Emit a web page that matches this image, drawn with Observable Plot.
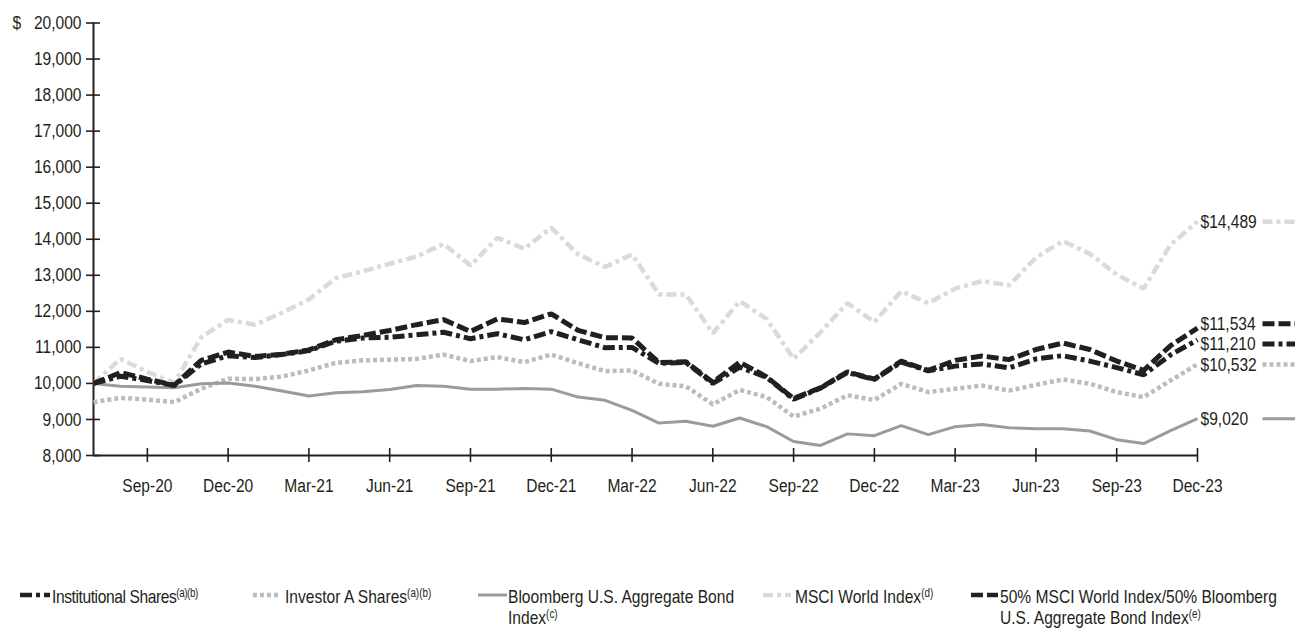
<!DOCTYPE html>
<html>
<head>
<meta charset="utf-8">
<script src="https://cdn.jsdelivr.net/npm/d3@7"></script>
<script src="https://cdn.jsdelivr.net/npm/@observablehq/plot@0.6"></script>
<style>
  html, body { margin: 0; padding: 0; background: #fff; }
  body { width: 1295px; height: 630px; position: relative; overflow: hidden;
         font-family: 'Liberation Sans', Arial, sans-serif; color: #231f20; }
  #chart { position: absolute; left: 0; top: 0; }
  .leg { position: absolute; top: 586px; font-size: 19px; line-height: 21px; white-space: nowrap;
         transform: scaleX(0.82); transform-origin: 0 0; }
  .leg sup { font-size: 12px; line-height: 0; vertical-align: 6px; }
  .sw { position: absolute; top: 590px; }
</style>
</head>
<body>
<div id="chart"></div>
<div id="legend"></div>
<script>
// ---- data ----
const months = ["Jul-20","Aug-20","Sep-20","Oct-20","Nov-20","Dec-20","Jan-21","Feb-21","Mar-21","Apr-21","May-21","Jun-21",
  "Jul-21","Aug-21","Sep-21","Oct-21","Nov-21","Dec-21","Jan-22","Feb-22","Mar-22","Apr-22","May-22","Jun-22",
  "Jul-22","Aug-22","Sep-22","Oct-22","Nov-22","Dec-22","Jan-23","Feb-23","Mar-23","Apr-23","May-23","Jun-23",
  "Jul-23","Aug-23","Sep-23","Oct-23","Nov-23","Dec-23"];
const tickLabels = ["Sep-20","Dec-20","Mar-21","Jun-21","Sep-21","Dec-21","Mar-22","Jun-22","Sep-22","Dec-22","Mar-23","Jun-23","Sep-23","Dec-23"];
const yTicks = [8000,9000,10000,11000,12000,13000,14000,15000,16000,17000,18000,19000,20000];

const institutional = [10000,10200,10080,9940,10540,10770,10720,10800,10910,11170,11260,11280,
  11350,11420,11240,11380,11210,11440,11210,10990,11000,10560,10580,10000,
  10450,10170,9560,9870,10300,10110,10590,10350,10480,10540,10430,10680,
  10770,10620,10440,10240,10790,11210];
const investorA = [9480,9600,9550,9480,9850,10130,10120,10190,10360,10570,10640,10660,
  10680,10800,10620,10730,10590,10800,10560,10340,10360,9990,9920,9420,
  9820,9620,9080,9300,9670,9540,9990,9760,9850,9940,9800,9960,
  10110,9990,9760,9620,10080,10532];
const bloomberg = [10000,9920,9900,9880,9990,10010,9920,9790,9650,9740,9770,9830,
  9940,9920,9840,9840,9860,9840,9620,9530,9250,8900,8950,8810,
  9040,8800,8390,8280,8600,8550,8830,8580,8800,8860,8770,8740,
  8740,8680,8440,8330,8690,9020];
const msciWorld = [10000,10680,10320,10020,11280,11760,11630,11960,12330,12920,13110,13320,
  13520,13870,13270,14040,13740,14320,13580,13230,13580,12470,12470,11390,
  12280,11790,10680,11420,12230,11700,12560,12230,12630,12840,12720,13490,
  13950,13600,13020,12630,13850,14489];
const blend = [10000,10300,10120,9950,10640,10870,10750,10810,10930,11210,11330,11470,
  11630,11770,11440,11790,11690,11930,11470,11270,11260,10580,10600,10030,
  10590,10180,9580,9880,10320,10120,10620,10360,10640,10760,10660,10940,
  11120,10940,10620,10360,11050,11534];

const endLabels = ["$14,489","$11,534","$11,210","$10,532","$9,020"];

// ---- styles ----
const ink = "#231f20";
const series = [
  {key:"msci", values: msciWorld, label: endLabels[0], stroke:"#dadada", width:4.5, dash:"10,4,4,4"},
  {key:"invA", values: investorA, label: endLabels[3], stroke:"#bcbcbe", width:4.5, dash:"4,3"},
  {key:"bbg", values: bloomberg, label: endLabels[4], stroke:"#9b9b9b", width:3, dash:null},
  {key:"blend", values: blend, label: endLabels[1], stroke:ink, width:5, dash:"12,4"},
  {key:"inst", values: institutional, label: endLabels[2], stroke:ink, width:5, dash:"12,4,4,4"}
];

const W = 1295, H = 500;
const mL = 93, mR = 98, mT = 22.5, mB = 45;
const n = months.length;
const tickIdx = tickLabels.map(t => months.indexOf(t));
const squeeze = 0.82;

// dodge end labels vertically
const ys = Plot.scale({y: {domain: [8000, 20000], range: [H - mB, mT]}});
const ord = series.map((s, i) => ({i, py: ys.apply(s.values[n - 1])})).sort((a, b) => a.py - b.py);
const gap = 20.5;
const pos = ord.map(o => o.py);
for (let k = 1; k < pos.length; k++) {
  if (pos[k] - pos[k - 1] < gap) {
    const mid = (pos[k] + pos[k - 1]) / 2;
    pos[k - 1] = mid - gap / 2; pos[k] = mid + gap / 2;
  }
}
const dyOf = {};
ord.forEach((o, k) => dyOf[o.i] = pos[k] - o.py);

const lineShape = {draw(ctx, l) { ctx.moveTo(0, 0); ctx.lineTo(0, -l); }};

const marks = [];
// axis lines
marks.push(Plot.ruleX([0], {y1: yTicks[0], y2: yTicks[yTicks.length - 1], stroke: ink, strokeWidth: 2}));
marks.push(Plot.ruleY([yTicks[0]], {x1: 0, x2: n - 1, stroke: ink, strokeWidth: 2}));
// crossing ticks
marks.push(Plot.axisY({ticks: yTicks, tickSize: 14, dx: 7, tickFormat: () => "", stroke: ink, strokeWidth: 1.6}));
marks.push(Plot.axisX({ticks: tickIdx, tickSize: 14, dy: -7, tickFormat: () => "", stroke: ink, strokeWidth: 1.6}));
// tick labels
marks.push(Plot.axisY({ticks: yTicks, tickSize: 0, tickPadding: 12, tickFormat: d3.format(","), fill: ink}));
marks.push(Plot.axisX({ticks: tickIdx, tickSize: 0, tickPadding: 23, tickFormat: i => months[i], fill: ink}));
marks.push(Plot.text(["$"], {y: yTicks[yTicks.length - 1], frameAnchor: "left", dx: -81, textAnchor: "start", text: d => d, fill: ink}));

series.forEach((s, i) => {
  marks.push(Plot.line(s.values, {x: (d, j) => j, y: d => d, stroke: s.stroke, strokeWidth: s.width,
    strokeDasharray: s.dash, strokeLinejoin: "miter", strokeLinecap: "butt", curve: "linear"}));
});
series.forEach((s, i) => {
  const last = [s.values[n - 1]];
  marks.push(Plot.text(last, {x: n - 1, y: d => d, text: () => s.label, dx: 3, dy: dyOf[i], textAnchor: "start", fill: ink}));
  marks.push(Plot.vector(last, {x: n - 1, y: d => d, length: 33, rotate: 90, anchor: "start", shape: lineShape,
    dx: 65, dy: dyOf[i], stroke: s.stroke, strokeWidth: s.width, strokeDasharray: s.dash, strokeLinecap: "butt"}));
});

const chart = Plot.plot({
  width: W, height: H,
  marginLeft: mL, marginRight: mR, marginTop: mT, marginBottom: mB,
  x: {type: "linear", domain: [0, n - 1]},
  y: {type: "linear", domain: [yTicks[0], yTicks[yTicks.length - 1]]},
  style: {fontFamily: "'Liberation Sans', Arial, sans-serif", fontSize: "19px", color: ink, background: "#fff", overflow: "visible"},
  marks
});
// condense text horizontally around each text's own anchor (narrow sans look)
chart.querySelectorAll("text").forEach(t => {
  const xa = parseFloat(t.getAttribute("x"));
  const x = isFinite(xa) ? xa : 0;
  const tr = t.getAttribute("transform") || "";
  t.setAttribute("transform", `${tr} translate(${x},0) scale(${squeeze},1) translate(${-x},0)`.trim());
});
document.getElementById("chart").appendChild(chart);

// ---- legend ----
const legendItems = [
  {s: series[4], swX: 20, swW: 30, txX: 52, ls: "-0.5px", html: "Institutional Shares<sup>(a)(b)</sup>"},
  {s: series[1], swX: 253, swW: 28, txX: 285, ls: "0px", html: "Investor A Shares<sup>(a)(b)</sup>"},
  {s: series[2], swX: 478, swW: 29, txX: 508, ls: "0px", html: "Bloomberg U.S. Aggregate Bond<br>Index<sup>(c)</sup>"},
  {s: series[0], swX: 763, swW: 28, txX: 795, ls: "0px", html: "MSCI World Index<sup>(d)</sup>"},
  {s: series[3], swX: 971, swW: 27, txX: 1000, ls: "0px", html: "50% MSCI World Index/50% Bloomberg<br>U.S. Aggregate Bond Index<sup>(e)</sup>"}
];
const leg = document.getElementById("legend");
legendItems.forEach(it => {
  const svg = d3.create("svg").attr("class", "sw").attr("width", it.swW).attr("height", 10)
    .style("left", it.swX + "px");
  svg.append("line").attr("x1", 0).attr("x2", it.swW).attr("y1", 5).attr("y2", 5)
    .attr("stroke", it.s.stroke).attr("stroke-width", Math.min(it.s.width, 4.5))
    .attr("stroke-dasharray", it.s.dash).attr("stroke-linecap", "butt");
  leg.appendChild(svg.node());
  const div = document.createElement("div");
  div.className = "leg";
  div.style.left = it.txX + "px";
  div.style.letterSpacing = it.ls;
  div.innerHTML = it.html;
  leg.appendChild(div);
});
</script>
</body>
</html>
